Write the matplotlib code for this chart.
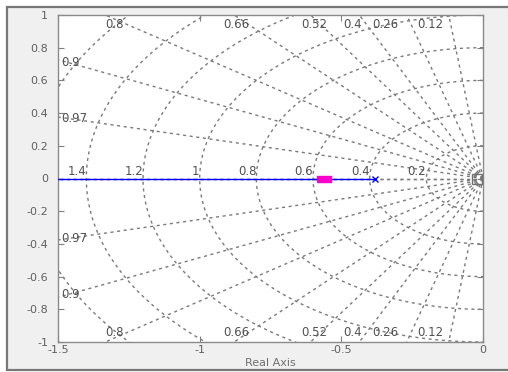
import numpy as np
import matplotlib
matplotlib.use("Agg")
import matplotlib.pyplot as plt
from matplotlib.patches import Rectangle
from matplotlib.path import Path

# ---- data ----
zeta_values = [0.12, 0.26, 0.4, 0.52, 0.66, 0.8, 0.9, 0.97, 1.0]
wn_values = [0.2, 0.4, 0.6, 0.8, 1.0, 1.2, 1.4, 1.6, 1.8]
zeta_top_labels = ["0.8", "0.66", "0.52", "0.4", "0.26", "0.12"]
zeta_top_x = [-1.30, -0.87, -0.595, -0.46, -0.345, -0.185]
zeta_top_y = 0.94
zeta_left_labels = ["0.9", "0.97"]
zeta_left_y = [0.712, 0.37]
wn_labels = ["1.4", "1.2", "1", "0.8", "0.6", "0.4", "0.2"]
wn_label_x = [-1.4, -1.2, -1.0, -0.8, -0.6, -0.4, -0.2]
locus_x = [-1.6, -0.38]
locus_y = [0.0, 0.0]
pole_x = [-0.38]
closed_loop_x = [-0.56]
origin_marker_x = [-0.02]
xticks = [-1.5, -1.0, -0.5, 0.0]
xticklabels = ["-1.5", "-1", "-0.5", "0"]
yticks = [-1, -0.8, -0.6, -0.4, -0.2, 0, 0.2, 0.4, 0.6, 0.8, 1]
yticklabels = ["-1", "-0.8", "-0.6", "-0.4", "-0.2", "0", "0.2", "0.4", "0.6", "0.8", "1"]

fig = plt.figure(figsize=(5.08, 3.72), dpi=100)
fig.patch.set_facecolor("white")
# outer frame of the window
frame = Rectangle((7/508, 2/372), 1.2, 1 - 9/372, transform=fig.transFigure,
                  facecolor="#f0f0f0", edgecolor="#777777", linewidth=1.6, zorder=-10)
fig.patches.append(frame)

ax = fig.add_axes([58/508, 1 - 342/372, 425/508, 327/372])
ax.set_facecolor("white")
ax.set_xlim(-1.5, 0)
ax.set_ylim(-1, 1)

grid_kw = dict(color="#7a7a7a", linewidth=1.0, linestyle=(0, (2.2, 2.6)), zorder=1)
# damping rays
R = 3.0
for z in zeta_values:
    s = np.sqrt(1 - z**2)
    ax.plot([0, -R * z], [0, R * s], **grid_kw)
    ax.plot([0, -R * z], [0, -R * s], **grid_kw)
# natural frequency circles
th = np.linspace(np.pi / 2, 3 * np.pi / 2, 400)
for w in wn_values:
    ax.plot(w * np.cos(th), w * np.sin(th), **grid_kw)

txt_kw = dict(fontsize=8.5, color="#505050", zorder=3)
for lab, x in zip(zeta_top_labels, zeta_top_x):
    ax.text(x, zeta_top_y, lab, ha="center", va="center", **txt_kw)
    ax.text(x, -zeta_top_y, lab, ha="center", va="center", **txt_kw)
for lab, y in zip(zeta_left_labels, zeta_left_y):
    ax.text(-1.488, y, lab, ha="left", va="center", **txt_kw)
    ax.text(-1.488, -y, lab, ha="left", va="center", **txt_kw)
for lab, x in zip(wn_labels, wn_label_x):
    ax.text(x, 0.045, lab, ha="right", va="center", **txt_kw)

# root locus
ax.plot(locus_x, locus_y, color="#0000ff", linewidth=1.0, zorder=4)
ax.plot(pole_x, [0], marker="x", color="#0000ff", markersize=5, mew=1.0,
        linestyle="none", zorder=5)
rect = Path([(-1, -0.5), (1, -0.5), (1, 0.5), (-1, 0.5), (-1, -0.5)])
ax.plot(closed_loop_x, [0], marker=rect, color="#ff00cc", markersize=10,
        linestyle="none", zorder=6)
ax.plot(origin_marker_x, [0], marker="s", markersize=7, mfc="none",
        mec="#707070", mew=1.0, linestyle="none", zorder=5)

ax.set_xticks(xticks)
ax.set_xticklabels(xticklabels)
ax.set_yticks(yticks)
ax.set_yticklabels(yticklabels)
ax.tick_params(direction="in", length=4, width=0.8, colors="#808080",
               labelcolor="#606060", labelsize=8, top=True, right=True)
ax.tick_params(axis="x", pad=2)
ax.tick_params(axis="y", pad=7)
for sp in ax.spines.values():
    sp.set_color("#8a8a8a")
    sp.set_linewidth(1.0)
ax.set_xlabel("Real Axis", fontsize=8, color="#707070", labelpad=2)

fig.savefig("out.png", dpi=100, facecolor=fig.get_facecolor())
